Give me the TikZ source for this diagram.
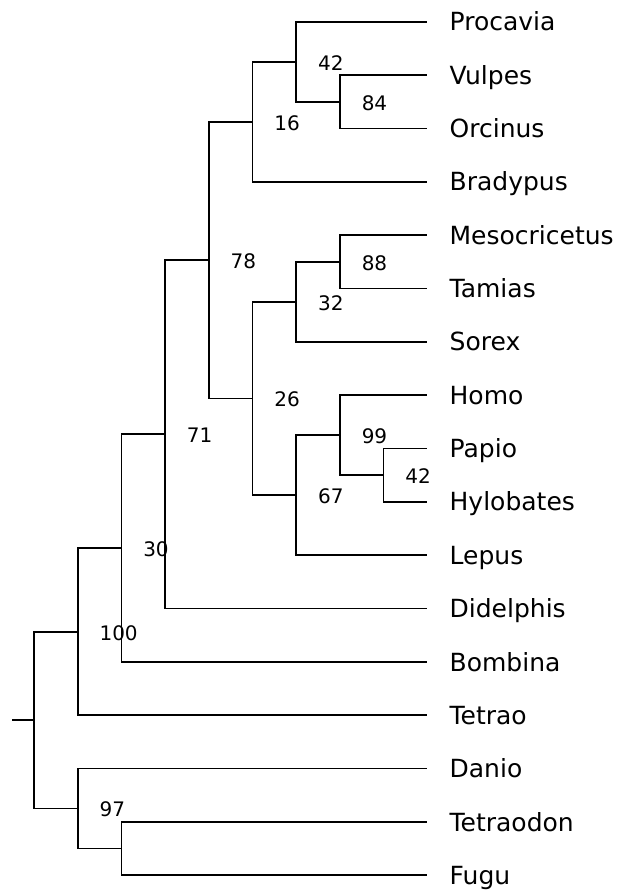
\documentclass[tikz,border=0pt]{standalone}
\usepackage{fontspec}
\setmainfont{DejaVu Sans}

\begin{document}
\begin{tikzpicture}[x=43.7pt, y=-53.35pt, line width=1.7pt,
    leaf/.style={anchor=west, inner sep=0pt, xshift=21.5pt,
                 font=\fontsize{25}{30}\selectfont, text height=18.2pt, text depth=0pt},
    support/.style={anchor=west, inner sep=0pt, xshift=21pt, yshift=-1pt,
                    font=\fontsize{20}{24}\selectfont, text height=14.6pt, text depth=0pt}]

    \def\tipx{9}

    % ── Frame (same margins as the figure) ──────────────────────────────────
    \useasboundingbox (-34pt,21.7pt) rectangle (586pt,-871.3pt);

    % ── Leaves ────────────────────────────────────────────────────────────────
    \foreach \name/\txt [count=\i from 0] in {procavia/Procavia, vulpes/Vulpes,
        orcinus/Orcinus, bradypus/Bradypus, mesocricetus/Mesocricetus,
        tamias/Tamias, sorex/Sorex, homo/Homo, papio/Papio,
        hylobates/Hylobates, lepus/Lepus, didelphis/Didelphis,
        bombina/Bombina, tetrao/Tetrao, danio/Danio,
        tetraodon/Tetraodon, fugu/Fugu}
    {
        \coordinate (\name) at (\tipx,\i);
        \node[leaf] (\name-lbl) at (\name) {\txt};
    }

    % ── Inner nodes (x = depth, y = mean of the two children) ───────────────
    \coordinate (stem) at (-0.5, 13.092);
    \coordinate (root) at (0, 13.092);
    \coordinate (nA) at (1, 11.434);
    \coordinate (nB) at (1, 14.75);
    \coordinate (nC) at (2, 9.867);
    \coordinate (nO) at (2, 15.5);
    \coordinate (nD) at (3, 7.734);
    \coordinate (nE) at (4, 4.469);
    \coordinate (nF) at (5, 1.875);
    \coordinate (nG) at (5, 7.063);
    \coordinate (nH) at (6, 0.75);
    \coordinate (nJ) at (6, 5.25);
    \coordinate (nK) at (6, 8.875);
    \coordinate (nI) at (7, 1.5);
    \coordinate (nL) at (7, 4.5);
    \coordinate (nM) at (7, 7.75);
    \coordinate (nN) at (8, 8.5);

    % ── Branches ─────────────────────────────────────────────────────────────
    \draw (stem) -- (root);
    \foreach \p/\c in {root/nA, root/nB, nA/nC, nA/tetrao, nC/nD, nC/bombina,
        nD/nE, nD/didelphis, nE/nF, nE/nG, nF/nH, nF/bradypus,
        nH/procavia, nH/nI, nI/vulpes, nI/orcinus, nG/nJ, nG/nK,
        nJ/nL, nJ/sorex, nL/mesocricetus, nL/tamias, nK/nM, nK/lepus,
        nM/homo, nM/nN, nN/papio, nN/hylobates,
        nB/danio, nB/nO, nO/tetraodon, nO/fugu}
        \draw (\p) |- (\c);

    % ── Support values ──────────────────────────────────────────────────────
    \foreach \n/\s in {nA/100, nB/97, nC/30, nD/71, nE/78, nF/16, nG/26,
        nH/42, nI/84, nJ/32, nK/67, nL/88, nM/99, nN/42}
        \node[support] (\n-sup) at (\n) {\s};

\end{tikzpicture}
\end{document}
